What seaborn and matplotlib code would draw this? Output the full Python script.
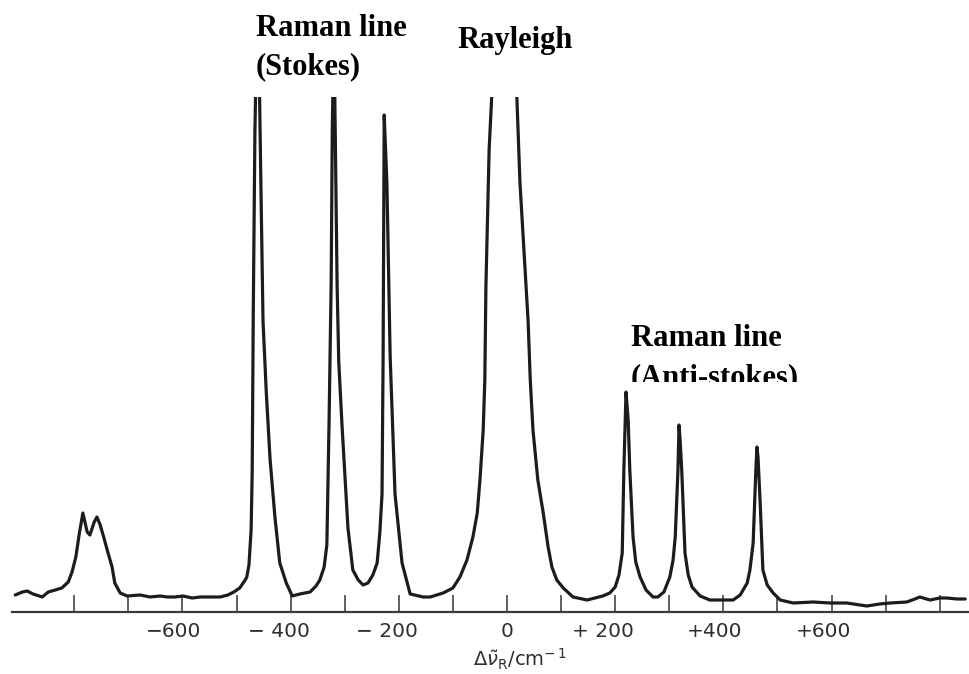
import matplotlib
matplotlib.use("Agg")
import numpy as np
import pandas as pd
import matplotlib.pyplot as plt
import seaborn as sns
from matplotlib.patches import Rectangle

# Raman spectrum (CCl4): shift in cm^-1, intensity in arbitrary units
shift = [-909, -896, -887, -876, -859, -848, -835, -823, -811, -804, -797, -791,
         -784, -776, -771, -763, -758, -752, -745, -738, -730, -725, -715, -702,
         -678, -660, -641, -628, -614, -599, -582, -567, -549, -530, -516, -505,
         -494, -484, -481, -477, -473, -471, -469, -466, -462, -458, -455, -451,
         -445, -438, -429, -420, -408, -397, -383, -364, -353, -346, -338, -333,
         -329, -325, -323, -320, -314, -311, -305, -294, -285, -275, -266, -257,
         -248, -240, -235, -231, -229, -227, -222, -216, -207, -194, -179, -155,
         -142, -118, -100, -87, -74, -63, -55, -50, -44, -41, -39, -33,
         -28, -4, 18, 24, 39, 43, 48, 57, 67, 76, 83, 92,
         104, 122, 148, 177, 190, 200, 207, 213, 216,
         220, 224, 227, 233, 238, 246, 257, 270, 279, 290, 301, 307,
         311, 316, 318, 320, 323, 329, 335, 342, 357, 375, 394, 418,
         431, 444, 449, 455, 460, 462, 464, 468, 473, 481, 492, 505,
         529, 566, 597, 628, 665, 689, 708, 739, 754, 763, 782, 800,
         813, 832, 847]
intensity = [17, 20, 21, 18, 15, 20, 22, 24, 30, 40, 55, 77,
             99, 80, 77, 90, 95, 87, 74, 60, 45, 29, 19, 16,
             17, 15, 16, 15, 15, 16, 14, 15, 15, 15, 17, 20,
             24, 32, 35, 47, 82, 140, 300, 480, 600, 540, 430, 291,
             220, 153, 95, 49, 29, 16, 18, 20, 26, 32, 45, 67,
             187, 330, 480, 590, 325, 250, 187, 84, 42, 32, 27, 29,
             37, 49, 80, 118, 256, 497, 429, 256, 118, 49, 18, 15,
             15, 19, 24, 35, 52, 75, 99, 132, 182, 232, 325, 463,
             518, 640, 518, 429, 291, 232, 182, 132, 99, 65, 45, 32,
             24, 15, 12, 16, 19, 25, 37, 59, 142,
             220, 192, 142, 75, 50, 35, 22, 15, 15, 20, 35, 52,
             75, 142, 187, 172, 142, 59, 37, 25, 16, 12, 12, 12,
             17, 29, 42, 69, 142, 165, 155, 109, 42, 27, 19, 12,
             9, 10, 9, 9, 6, 8, 9, 10, 13, 15, 12, 14,
             14, 13, 13]

tick_values = [-600, -400, -200, 0, 200, 400, 600]
tick_labels = ["\u2212600", "\u2212 400", "\u2212 200", "0", "+ 200", "+400", "+600"]

df = pd.DataFrame({"shift": shift, "intensity": intensity})

sns.set_style("white")
plt.rcParams["font.family"] = ["DejaVu Sans"]
plt.rcParams["mathtext.fontset"] = "dejavusans"

fig = plt.figure(figsize=(9.69, 6.74), dpi=100)
ax = fig.add_axes([12 / 969, 62 / 674, 957 / 969, 515 / 674])

sns.lineplot(data=df, x="shift", y="intensity", ax=ax, color="#1c1c1c",
             linewidth=2.3, estimator=None, sort=False)

ax.set_xlim(-915, 854)
ax.set_ylim(0, 515)
for side in ["left", "right", "top"]:
    ax.spines[side].set_visible(False)
ax.spines["bottom"].set_color("#3a3a3a")
ax.spines["bottom"].set_linewidth(1.6)

# tick marks every 100 cm^-1, pointing up from the axis
ax.set_xticks(np.arange(-800, 801, 100))
ax.set_xticklabels([])
ax.set_yticks([])
ax.tick_params(axis="x", bottom=True, direction="in", length=12, width=1.3,
               color="#555555")
ax.set_ylabel("")

# tick labels: digits centred on the tick, sign hanging to the left
for v, lab in zip(tick_values, tick_labels):
    if v == 0:
        ax.annotate(lab, xy=(v, 0), xycoords=("data", "axes fraction"),
                    xytext=(0, -7), textcoords="offset points",
                    ha="center", va="top", fontsize=14.5, color="#2e2e2e")
    else:
        ax.annotate(lab, xy=(v, 0), xycoords=("data", "axes fraction"),
                    xytext=(13.8, -7), textcoords="offset points",
                    ha="right", va="top", fontsize=14.5, color="#2e2e2e")

ax.set_xlabel(r"$\Delta\tilde{\nu}_{\mathrm{R}}/\mathrm{cm}^{-\,1}$", fontsize=14,
              color="#2e2e2e")
ax.xaxis.set_label_coords(0.531, -0.068)

# annotations above the peaks
serif = ["Liberation Serif", "DejaVu Serif"]
fig.text(256 / 969, 1 - 36 / 674, "Raman line", family=serif, weight="bold",
         fontsize=22, va="baseline", ha="left", color="black")
fig.text(256 / 969, 1 - 74 / 674, "(Stokes)", family=serif, weight="bold",
         fontsize=22, va="baseline", ha="left", color="black")
fig.text(457 / 969, 1 - 48 / 674, "Rayleigh", family=serif, weight="bold",
         fontsize=22, va="baseline", ha="left", color="black")
fig.text(631 / 969, 1 - 346 / 674, "Raman line", family=serif, weight="bold",
         fontsize=22, va="baseline", ha="left", color="black")
t = fig.text(631 / 969, 1 - 385 / 674, "(Anti-stokes)", family=serif, weight="bold",
             fontsize=22, va="baseline", ha="left", color="black")
clip = Rectangle((0, 1 - 382 / 674), 1, 382 / 674, transform=fig.transFigure)
t.set_clip_path(clip)

fig.savefig("out.png", dpi=100)
